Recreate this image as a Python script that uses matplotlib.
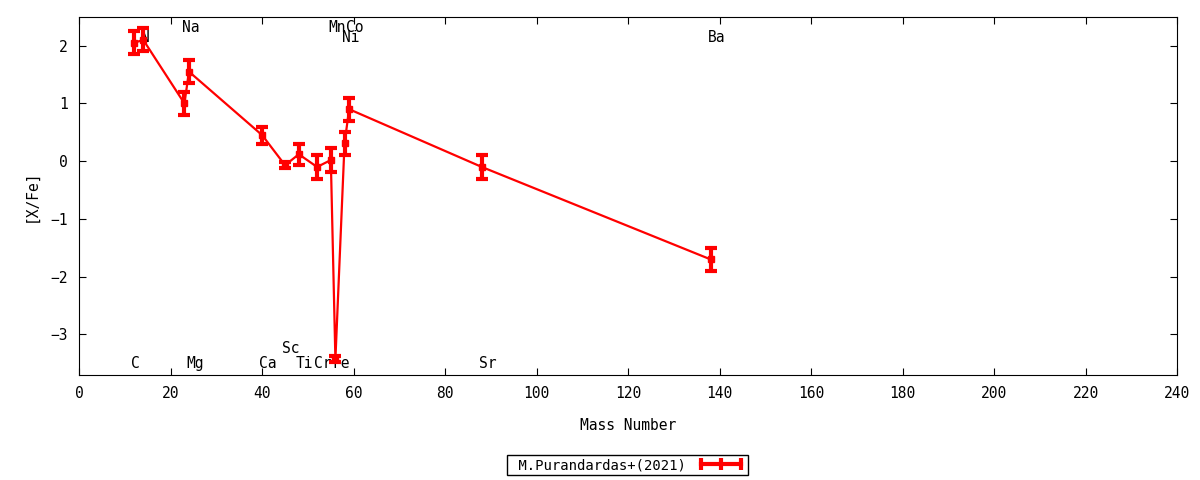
import matplotlib
matplotlib.use('Agg')
import matplotlib.pyplot as plt
from matplotlib.lines import Line2D

plt.rcParams['font.family'] = ['DejaVu Sans Mono']
plt.rcParams['font.size'] = 10

# element, mass number, [X/Fe], error
elements = ['C', 'N', 'Na', 'Mg', 'Ca', 'Sc', 'Ti', 'Cr', 'Mn', 'Fe', 'Ni', 'Co', 'Sr', 'Ba']
mass = [12, 14, 23, 24, 40, 45, 48, 52, 55, 56, 58, 59, 88, 138]
xfe = [2.05, 2.1, 1.0, 1.55, 0.45, -0.07, 0.12, -0.1, 0.02, -3.43, 0.31, 0.9, -0.1, -1.7]
err = [0.2, 0.2, 0.2, 0.2, 0.15, 0.05, 0.18, 0.2, 0.2, 0.05, 0.2, 0.2, 0.2, 0.2]
# height at which each element name is written
label_y = [-3.5, 2.15, 2.32, -3.5, -3.5, -3.25, -3.5, -3.5, 2.32, -3.5, 2.15, 2.32, -3.5, 2.15]

fig = plt.figure(figsize=(12, 4.8), dpi=100)
ax = fig.add_axes([0.066, 0.219, 0.915, 0.746])

ax.errorbar(mass, xfe, yerr=err, color='#ff0000', lw=1.6, marker='s', ms=4,
            elinewidth=3, capsize=4, capthick=3, zorder=3)

for name, m, ly in zip(elements, mass, label_y):
    ax.text(m - 0.6, ly, name, ha='left', va='center', fontsize=10.5, zorder=1)

ax.set_xlim(0, 240)
ax.set_ylim(-3.7, 2.5)
ax.set_xticks(range(0, 241, 20))
ax.set_yticks([-3, -2, -1, 0, 1, 2])
ax.tick_params(direction='in', top=True, right=True, length=5, labelsize=10.5, pad=8)
ax.set_xlabel('Mass Number', fontsize=10.5, labelpad=12)
ax.set_ylabel('[X/Fe]', fontsize=10.5, labelpad=9)

proxy = Line2D([], [], color='#ff0000', lw=3, marker='|', ms=9, mew=3)
leg = fig.legend([proxy], [' M.Purandardas+(2021)'], loc='center', bbox_to_anchor=(0.523, 0.031),
                 markerfirst=False, numpoints=3, fancybox=False, edgecolor='black', framealpha=1,
                 borderpad=0.2, handlelength=3.5, fontsize=10, borderaxespad=0)
leg.get_frame().set_linewidth(1)

fig.savefig('out.png', dpi=100)
